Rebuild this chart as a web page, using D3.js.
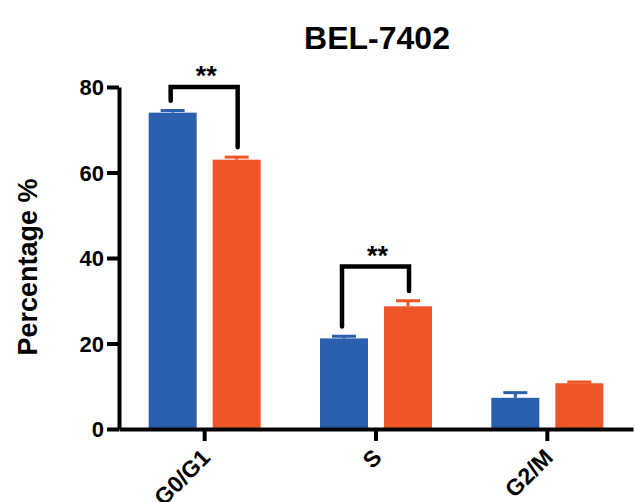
<!DOCTYPE html>
<html>
<head>
<meta charset="utf-8">
<script src="https://cdn.jsdelivr.net/npm/d3@7/dist/d3.min.js"></script>
<style>
  html, body { margin: 0; padding: 0; background: #fff; }
  svg { display: block; }
  text { font-family: "Liberation Sans", Arial, Helvetica, sans-serif; font-weight: bold; fill: #000; }
</style>
</head>
<body>
<svg id="chart" width="635" height="502"></svg>
<script>
// ---- data ----
const title = "BEL-7402";
const yLabel = "Percentage %";
const categories = ["G0/G1", "S", "G2/M"];
const seriesNames = ["Control", "Treated"];
const controlMeans = [74.0, 21.2, 7.3];
const controlErr = [0.5, 0.5, 1.2];
const treatedMeans = [63.0, 28.7, 10.7];
const treatedErr = [0.6, 1.3, 0.3];
const yTicks = [0, 20, 40, 60, 80];
const sigCategories = ["G0/G1", "S"];
const sigLabels = ["**", "**"];
const sigLevels = [80, 38];

const colors = ["#2b60ae", "#ee5527"];

const svg = d3.select("#chart");

const x0 = d3.scaleBand().domain(categories).range([119, 633]).paddingInner(0).paddingOuter(0);
const bw = x0.bandwidth();
const x1 = d3.scaleBand().domain(seriesNames).range([bw / 2 - 56, bw / 2 + 56]).paddingInner(0.25).paddingOuter(0);
const y = d3.scaleLinear().domain([0, 80]).range([429, 87]);

const rows = [];
categories.forEach((c, i) => {
  rows.push({ cat: c, s: seriesNames[0], v: controlMeans[i], e: controlErr[i], color: colors[0] });
  rows.push({ cat: c, s: seriesNames[1], v: treatedMeans[i], e: treatedErr[i], color: colors[1] });
});

// bars
svg.append("g").selectAll("rect").data(rows).join("rect")
  .attr("x", d => x0(d.cat) + x1(d.s))
  .attr("y", d => y(d.v))
  .attr("width", x1.bandwidth())
  .attr("height", d => y(0) - y(d.v))
  .attr("fill", d => d.color);

// error bars (upper only)
const eb = svg.append("g").selectAll("g").data(rows).join("g")
  .attr("stroke", d => d.color).attr("stroke-width", 3);
eb.append("line")
  .attr("x1", d => x0(d.cat) + x1(d.s) + x1.bandwidth() / 2)
  .attr("x2", d => x0(d.cat) + x1(d.s) + x1.bandwidth() / 2)
  .attr("y1", d => y(d.v))
  .attr("y2", d => y(d.v + d.e));
eb.append("line")
  .attr("x1", d => x0(d.cat) + x1(d.s) + x1.bandwidth() / 2 - 12)
  .attr("x2", d => x0(d.cat) + x1(d.s) + x1.bandwidth() / 2 + 12)
  .attr("y1", d => y(d.v + d.e))
  .attr("y2", d => y(d.v + d.e));

// y axis
const yAxis = svg.append("g").attr("transform", "translate(119,0)")
  .call(d3.axisLeft(y).tickValues(yTicks).tickSize(12).tickSizeOuter(0).tickPadding(3));
yAxis.select(".domain").attr("stroke-width", 4);
yAxis.selectAll(".tick line").attr("stroke-width", 4);
yAxis.selectAll(".tick text").style("font-size", "22px").attr("dy", "0.36em");

// x axis
const xAxis = svg.append("g").attr("transform", "translate(0,429)")
  .call(d3.axisBottom(x0).tickSize(12).tickSizeOuter(0));
xAxis.select(".domain").attr("stroke-width", 4);
xAxis.selectAll(".tick line").attr("stroke-width", 4);
xAxis.selectAll(".tick text")
  .style("font-size", "23px")
  .attr("x", 0).attr("y", 0).attr("dy", 0)
  .attr("text-anchor", "end")
  .attr("transform", "translate(7,30) rotate(-45)");

// significance brackets
const sig = sigCategories.map((c, i) => {
  const ci = categories.indexOf(c);
  return {
    xl: x0(c) + x1(seriesNames[0]) + x1.bandwidth() / 2 - 2,
    xr: x0(c) + x1(seriesNames[1]) + x1.bandwidth() / 2 + 1,
    yl: controlMeans[ci] + controlErr[ci] + 2.3,
    yr: treatedMeans[ci] + treatedErr[ci] + 2.3,
    level: sigLevels[i],
    label: sigLabels[i]
  };
});
const sg = svg.append("g").selectAll("g").data(sig).join("g");
sg.append("path")
  .attr("d", d => `M${d.xl},${y(d.yl)}V${y(d.level)}H${d.xr}V${y(d.yr)}`)
  .attr("fill", "none").attr("stroke", "#000").attr("stroke-width", 4.5)
  .attr("stroke-linecap", "round").attr("stroke-linejoin", "miter");
sg.append("text")
  .attr("x", d => (d.xl + d.xr) / 2 + 2)
  .attr("y", d => y(d.level) - 2)
  .attr("text-anchor", "middle")
  .style("font-size", "27px")
  .text(d => d.label);

// title
svg.append("text").attr("x", 377).attr("y", 49).attr("text-anchor", "middle")
  .style("font-size", "32px").text(title);

// y label
svg.append("text").attr("transform", "translate(37,267) rotate(-90)")
  .attr("text-anchor", "middle").style("font-size", "27px").text(yLabel);
</script>
</body>
</html>
